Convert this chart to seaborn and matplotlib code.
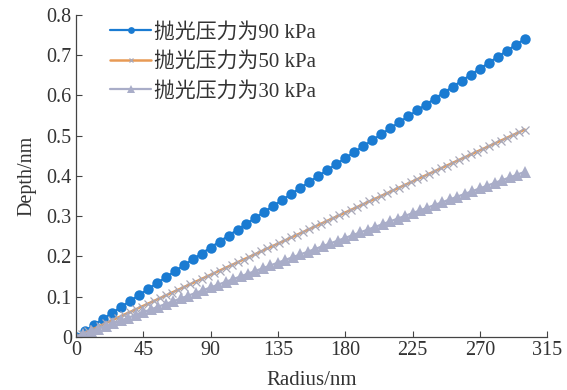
import matplotlib
matplotlib.use("Agg")
import matplotlib.pyplot as plt
import seaborn as sns
import pandas as pd

# ---- data ----
x_90 = list(range(0, 301, 6))
y_90 = [0, 0.0148, 0.0296, 0.0444, 0.0592, 0.074, 0.0888, 0.1036, 0.1184, 0.1332,
        0.148, 0.1628, 0.1776, 0.1924, 0.2072, 0.222, 0.2368, 0.2516, 0.2664, 0.2812,
        0.296, 0.3108, 0.3256, 0.3404, 0.3552, 0.37, 0.3848, 0.3996, 0.4144, 0.4292,
        0.444, 0.4588, 0.4736, 0.4884, 0.5032, 0.518, 0.5328, 0.5476, 0.5624, 0.5772,
        0.592, 0.6068, 0.6216, 0.6364, 0.6512, 0.666, 0.6808, 0.6956, 0.7104, 0.7252, 0.74]

x_50 = list(range(0, 301, 4))
y_50 = [0, 0.0069, 0.0137, 0.0206, 0.0275, 0.0343, 0.0412, 0.0481, 0.0549, 0.0618,
        0.0687, 0.0755, 0.0824, 0.0893, 0.0961, 0.103, 0.1099, 0.1167, 0.1236, 0.1305,
        0.1373, 0.1442, 0.1511, 0.1579, 0.1648, 0.1717, 0.1785, 0.1854, 0.1923, 0.1991,
        0.206, 0.2129, 0.2197, 0.2266, 0.2335, 0.2403, 0.2472, 0.2541, 0.2609, 0.2678,
        0.2747, 0.2815, 0.2884, 0.2953, 0.3021, 0.309, 0.3159, 0.3227, 0.3296, 0.3365,
        0.3433, 0.3502, 0.3571, 0.3639, 0.3708, 0.3777, 0.3845, 0.3914, 0.3983, 0.4051,
        0.412, 0.4189, 0.4257, 0.4326, 0.4395, 0.4463, 0.4532, 0.4601, 0.4669, 0.4738,
        0.4807, 0.4875, 0.4944, 0.5013, 0.5081, 0.515]

x_30 = list(range(0, 301, 5))
y_30 = [0, 0.0068, 0.0137, 0.0205, 0.0273, 0.0342, 0.041, 0.0478, 0.0547, 0.0615,
        0.0683, 0.0752, 0.082, 0.0888, 0.0957, 0.1025, 0.1093, 0.1162, 0.123, 0.1298,
        0.1367, 0.1435, 0.1503, 0.1572, 0.164, 0.1708, 0.1777, 0.1845, 0.1913, 0.1982,
        0.205, 0.2118, 0.2187, 0.2255, 0.2323, 0.2392, 0.246, 0.2528, 0.2597, 0.2665,
        0.2733, 0.2802, 0.287, 0.2938, 0.3007, 0.3075, 0.3143, 0.3212, 0.328, 0.3348,
        0.3417, 0.3485, 0.3553, 0.3622, 0.369, 0.3758, 0.3827, 0.3895, 0.3963, 0.4032, 0.41]

labels = ["抛光压力为90 kPa", "抛光压力为50 kPa", "抛光压力为30 kPa"]
x_ticks = [0, 45, 90, 135, 180, 225, 270, 315]
y_ticks = [0, 0.1, 0.2, 0.3, 0.4, 0.5, 0.6, 0.7, 0.8]
y_ticklabels = ["0", "0.1", "0.2", "0.3", "0.4", "0.5", "0.6", "0.7", "0.8"]

sns.set_style("ticks")
plt.rcParams['font.family'] = ['Liberation Serif', 'Noto Sans CJK SC', 'DejaVu Sans']

fig = plt.figure(figsize=(5.67, 3.9), dpi=100)
ax = fig.add_axes([0.134, 0.136, 0.831, 0.826])

sns.lineplot(x=x_90, y=y_90, ax=ax, color='#1a7bd2', lw=1.6, marker='o', markersize=7.5,
             markeredgewidth=0, label=labels[0])
sns.lineplot(x=x_50, y=y_50, ax=ax, color='#e89a55', lw=1.8, marker='x', markersize=5.5,
             markeredgewidth=0.9, markeredgecolor='#a8a8b8', markerfacecolor='#a8a8b8',
             label=labels[1])
sns.lineplot(x=x_30, y=y_30, ax=ax, color='#a9adc8', lw=1.6, marker='^', markersize=8,
             markeredgewidth=0, label=labels[2])

ax.set_xlim(0, 315)
ax.set_ylim(0, 0.8)
ax.set_xticks(x_ticks)
ax.set_xticklabels([str(t) for t in x_ticks])
ax.set_yticks(y_ticks)
ax.set_yticklabels(y_ticklabels)
ax.tick_params(direction='in', length=4, width=0.8, labelsize=14.5, colors='#444444',
               labelcolor='#333333', pad=3)
for side in ['top', 'right']:
    ax.spines[side].set_visible(False)
for side in ['left', 'bottom']:
    ax.spines[side].set_color('#444444')
    ax.spines[side].set_linewidth(0.9)
ax.set_xlabel('Radius/nm', fontsize=15, labelpad=8, color='#333333')
ax.set_ylabel('Depth/nm', fontsize=14.5, labelpad=7, color='#333333')

leg = ax.legend(loc='upper left', bbox_to_anchor=(0.045, 1.015), frameon=False, fontsize=15,
                handlelength=2.0, handletextpad=0.15, labelspacing=0.47, markerscale=0.65,
                borderaxespad=0.2)
for t in leg.get_texts():
    t.set_color('#333333')

fig.savefig('out.png', dpi=100)
